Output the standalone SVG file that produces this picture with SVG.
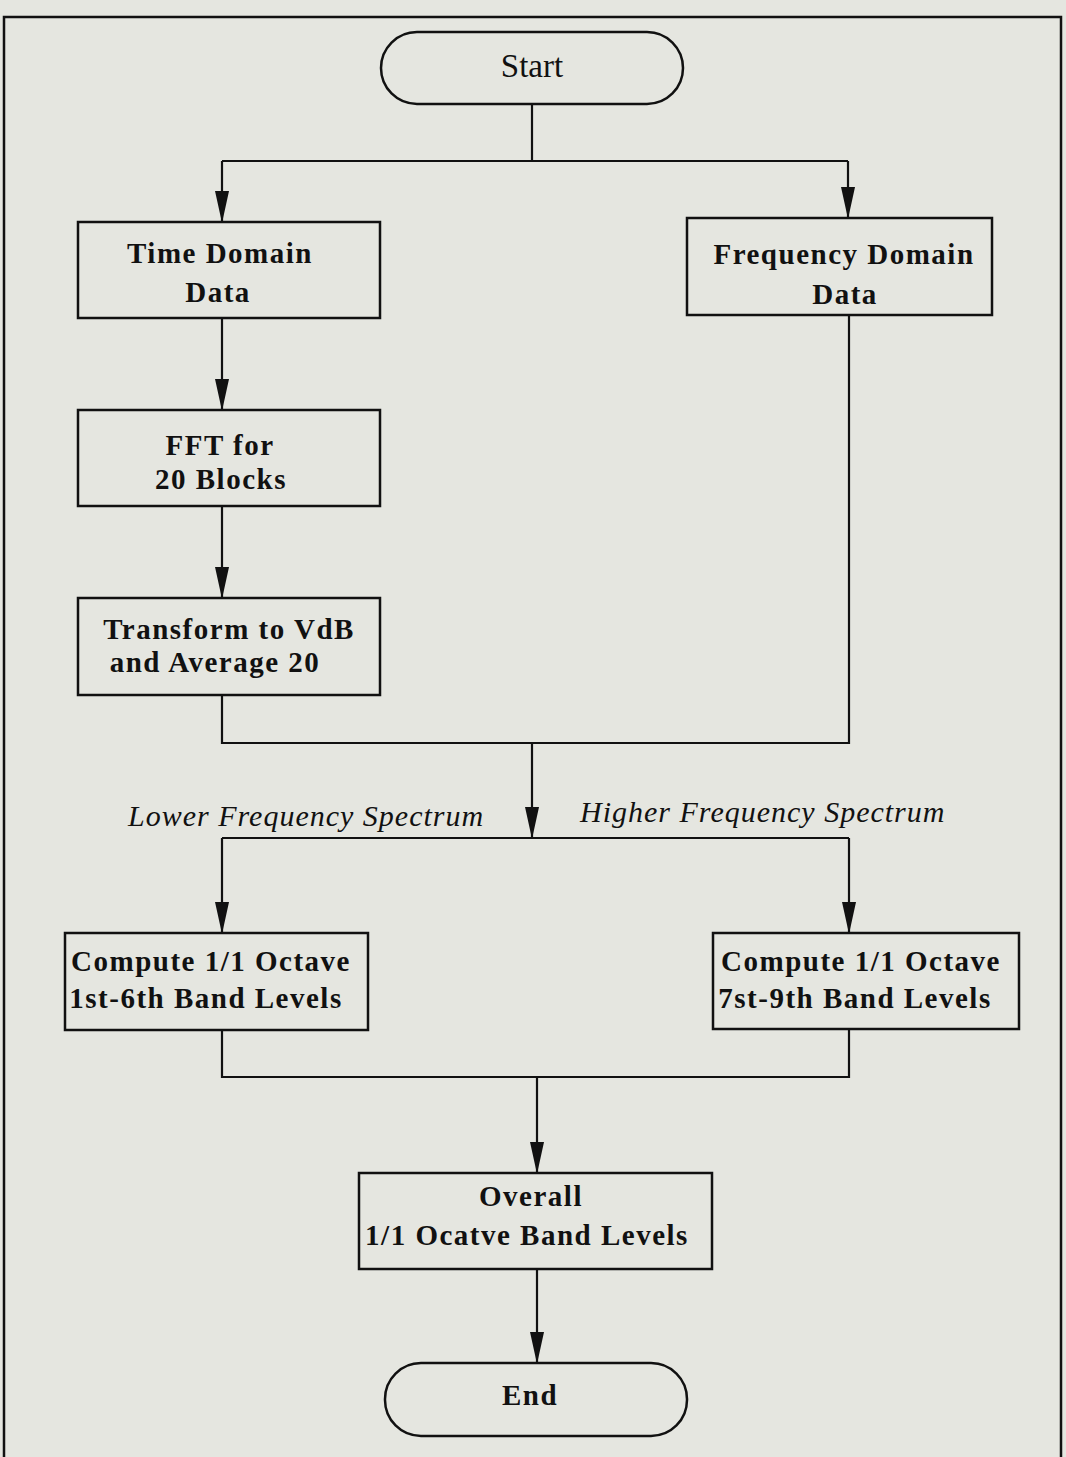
<svg xmlns="http://www.w3.org/2000/svg" width="1066" height="1457" viewBox="0 0 1066 1457">
<defs>
<marker id="ah" markerWidth="32" markerHeight="16" refX="31" refY="8" orient="auto" markerUnits="userSpaceOnUse" viewBox="0 0 32 16">
<path d="M0,1 L32,8 L0,15 Z" fill="#111"/>
</marker>
<style>
.bx{fill:none;stroke:#111;stroke-width:2.5}
.ln{fill:none;stroke:#111;stroke-width:2.2}
.t{font-family:"Liberation Serif","Times New Roman",serif;font-weight:bold;font-size:29px;fill:#111;text-anchor:middle;letter-spacing:1.5px}
.it{font-family:"Liberation Serif","Times New Roman",serif;font-style:italic;font-size:30px;fill:#111;letter-spacing:1px}
</style>
</defs>
<rect x="0" y="0" width="1066" height="1457" fill="#e5e6e0"/>
<rect x="4" y="17" width="1057" height="1460" fill="none" stroke="#111" stroke-width="2.5"/>
<g id="connectors">
<path class="ln" d="M532,104 V161"/>
<path class="ln" d="M222,161 H848"/>
<path class="ln" d="M222,161 V222" marker-end="url(#ah)"/>
<path class="ln" d="M848,161 V218" marker-end="url(#ah)"/>
<path class="ln" d="M222,318 V410" marker-end="url(#ah)"/>
<path class="ln" d="M222,506 V598" marker-end="url(#ah)"/>
<path class="ln" d="M222,695 V743 H849 V315"/>
<path class="ln" d="M532,743 V838" marker-end="url(#ah)"/>
<path class="ln" d="M222,838 H849"/>
<path class="ln" d="M222,838 V933" marker-end="url(#ah)"/>
<path class="ln" d="M849,838 V933" marker-end="url(#ah)"/>
<path class="ln" d="M222,1030 V1077 H849 V1029"/>
<path class="ln" d="M537,1077 V1173" marker-end="url(#ah)"/>
<path class="ln" d="M537,1269 V1363" marker-end="url(#ah)"/>
<text class="it" x="128" y="826">Lower Frequency Spectrum</text>
<text class="it" x="580" y="822">Higher Frequency Spectrum</text>
</g>
<g id="start">
<rect class="bx" x="381" y="32" width="302" height="72" rx="36"/>
<text class="t" x="532" y="77" style="font-weight:normal;font-size:33px;letter-spacing:0">Start</text>
</g>
<g id="time">
<rect class="bx" x="78" y="222" width="302" height="96"/>
<text class="t" x="220" y="263">Time Domain</text>
<text class="t" x="218" y="302">Data</text>
</g>
<g id="freq">
<rect class="bx" x="687" y="218" width="305" height="97"/>
<text class="t" x="844" y="264">Frequency Domain</text>
<text class="t" x="845" y="304">Data</text>
</g>
<g id="fft">
<rect class="bx" x="78" y="410" width="302" height="96"/>
<text class="t" x="220" y="455">FFT for</text>
<text class="t" x="221" y="489">20 Blocks</text>
</g>
<g id="transform">
<rect class="bx" x="78" y="598" width="302" height="97"/>
<text class="t" x="229" y="639">Transform to VdB</text>
<text class="t" x="215" y="672">and Average 20</text>
</g>
<g id="lower">
<rect class="bx" x="65" y="933" width="303" height="97"/>
<text class="t" x="211" y="971">Compute 1/1 Octave</text>
<text class="t" x="206" y="1008">1st-6th Band Levels</text>
</g>
<g id="higher">
<rect class="bx" x="713" y="933" width="306" height="96"/>
<text class="t" x="861" y="971">Compute 1/1 Octave</text>
<text class="t" x="855" y="1008">7st-9th Band Levels</text>
</g>
<g id="overall">
<rect class="bx" x="359" y="1173" width="353" height="96"/>
<text class="t" x="531" y="1206">Overall</text>
<text class="t" x="527" y="1245">1/1 Ocatve Band Levels</text>
</g>
<g id="end">
<rect class="bx" x="385" y="1363" width="302" height="73" rx="36"/>
<text class="t" x="530" y="1405">End</text>
</g>
</svg>
